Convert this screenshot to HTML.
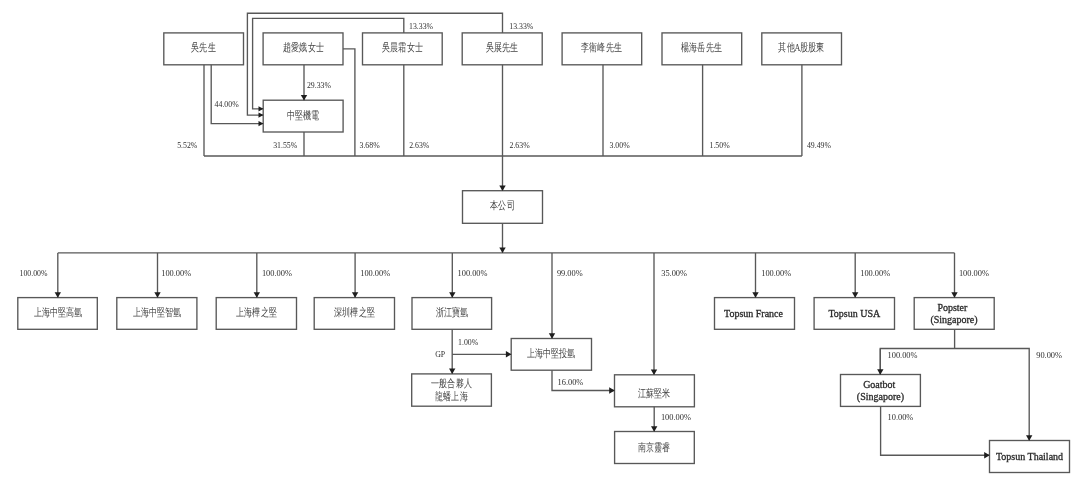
<!DOCTYPE html>
<html lang="zh-Hant">
<head>
<meta charset="utf-8">
<title>Shareholding structure</title>
<style>
html,body{margin:0;padding:0;background:#fff;}
body{width:1080px;height:479px;overflow:hidden;position:relative;font-family:"Liberation Serif",serif;color:#2b2b2b;}
#chart{position:absolute;left:0;top:0;width:1080px;height:479px;filter:blur(0.45px);}
svg{position:absolute;left:0;top:0;}
.b{position:absolute;display:flex;align-items:center;justify-content:center;text-align:center;box-sizing:border-box;}
.b span{display:block;white-space:nowrap;position:relative;}
.c span{font-size:11px;line-height:12.5px;transform:scaleX(0.73);color:#444;}
.l span{font-size:10px;line-height:11.5px;color:#2a2a2a;-webkit-text-stroke:0.3px #2a2a2a;}
.l em{font-style:normal;position:relative;}
.p{position:absolute;white-space:nowrap;line-height:10px;height:10px;color:#2e2e2e;}
</style>
</head>
<body>
<div id="chart">
<svg width="1080" height="479" viewBox="0 0 1080 479">
<g fill="none" stroke="#585858" stroke-width="1.35" stroke-linejoin="miter">
<rect x="163.8" y="32.9" width="79.7" height="31.9"/>
<rect x="263.1" y="32.9" width="79.9" height="31.9"/>
<rect x="362.5" y="32.9" width="79.7" height="31.9"/>
<rect x="462.2" y="32.9" width="80" height="31.9"/>
<rect x="562.1" y="32.9" width="79.6" height="31.9"/>
<rect x="662" y="32.9" width="79.7" height="31.9"/>
<rect x="761.8" y="32.9" width="79.7" height="31.9"/>
<rect x="263.2" y="100.2" width="79.9" height="31.8"/>
<rect x="462.5" y="190.7" width="80" height="32.6"/>
<rect x="17.8" y="297.6" width="79.5" height="31.7"/>
<rect x="116.8" y="297.6" width="80.1" height="31.7"/>
<rect x="216.2" y="297.6" width="80.3" height="31.7"/>
<rect x="314.2" y="297.6" width="80.3" height="31.7"/>
<rect x="412" y="297.6" width="79.6" height="31.7"/>
<rect x="714.5" y="297.6" width="80" height="31.7"/>
<rect x="814.1" y="297.6" width="80.4" height="31.7"/>
<rect x="914.2" y="297.6" width="80" height="31.7"/>
<rect x="511.2" y="338.5" width="80.3" height="31.7"/>
<rect x="411.7" y="373.9" width="79.7" height="32.3"/>
<rect x="614.5" y="374.8" width="79.9" height="32"/>
<rect x="614.6" y="431.5" width="79.7" height="32"/>
<rect x="840.5" y="374.5" width="79.9" height="31.9"/>
<rect x="989.5" y="440.5" width="80" height="32"/>
<polyline points="204,156 801.9,156"/>
<polyline points="204,64.8 204,156"/>
<polyline points="211.2,64.8 211.2,123.6 263.2,123.6"/>
<polyline points="304,64.8 304,100.2"/>
<polyline points="343,48.9 354.9,48.9 354.9,156"/>
<polyline points="304,132 304,156"/>
<polyline points="403.8,64.8 403.8,156"/>
<polyline points="403.8,32.9 403.8,18.3 252.6,18.3 252.6,108.8 263.2,108.8"/>
<polyline points="502.5,64.8 502.5,190.7"/>
<polyline points="502.5,32.9 502.5,13.2 247.4,13.2 247.4,115.1 263.2,115.1"/>
<polyline points="603,64.8 603,156"/>
<polyline points="702.6,64.8 702.6,156"/>
<polyline points="801.9,64.8 801.9,156"/>
<polyline points="502.5,223.3 502.5,252.9"/>
<polyline points="57.8,252.9 954.5,252.9"/>
<polyline points="57.8,252.9 57.8,297.6"/>
<polyline points="157.5,252.9 157.5,297.6"/>
<polyline points="256.8,252.9 256.8,297.6"/>
<polyline points="355.1,252.9 355.1,297.6"/>
<polyline points="452.3,252.9 452.3,297.6"/>
<polyline points="755.5,252.9 755.5,297.6"/>
<polyline points="855.2,252.9 855.2,297.6"/>
<polyline points="954.5,252.9 954.5,297.6"/>
<polyline points="552,252.9 552,338.5"/>
<polyline points="654,252.9 654,374.8"/>
<polyline points="452.2,329.3 452.2,373.9"/>
<polyline points="452.2,354.3 511.2,354.3"/>
<polyline points="552,370.2 552,390.5 614.5,390.5"/>
<polyline points="654.2,406.8 654.2,431.5"/>
<polyline points="954.6,329.3 954.6,348.5"/>
<polyline points="880.3,374.5 880.3,348.5 1029.2,348.5 1029.2,440.5"/>
<polyline points="880.3,348.5 880.3,374.5"/>
<polyline points="880.6,406.4 880.6,455.2 989.5,455.2"/>
</g>
<g fill="#1e1e1e" stroke="none">
<polygon points="263.4,123.6 258.5,121 258.5,126.2"/>
<polygon points="304,100.4 300.8,94.9 307.2,94.9"/>
<polygon points="263.4,108.8 258.5,106.2 258.5,111.4"/>
<polygon points="502.5,190.9 499.3,185.4 505.7,185.4"/>
<polygon points="263.4,115.1 258.5,112.5 258.5,117.7"/>
<polygon points="502.5,253.1 499.3,247.6 505.7,247.6"/>
<polygon points="57.8,297.8 54.6,292.3 61,292.3"/>
<polygon points="157.5,297.8 154.3,292.3 160.7,292.3"/>
<polygon points="256.8,297.8 253.6,292.3 260,292.3"/>
<polygon points="355.1,297.8 351.9,292.3 358.3,292.3"/>
<polygon points="452.3,297.8 449.1,292.3 455.5,292.3"/>
<polygon points="755.5,297.8 752.3,292.3 758.7,292.3"/>
<polygon points="855.2,297.8 852,292.3 858.4,292.3"/>
<polygon points="954.5,297.8 951.3,292.3 957.7,292.3"/>
<polygon points="552,338.7 548.8,333.2 555.2,333.2"/>
<polygon points="654,375 650.8,369.5 657.2,369.5"/>
<polygon points="452.2,374.1 449,368.6 455.4,368.6"/>
<polygon points="511.4,354.3 505.9,351.1 505.9,357.5"/>
<polygon points="614.7,390.5 609.2,387.3 609.2,393.7"/>
<polygon points="654.2,431.7 651,426.2 657.4,426.2"/>
<polygon points="1029.2,440.7 1026,435.2 1032.4,435.2"/>
<polygon points="880.3,374.7 877.1,369.2 883.5,369.2"/>
<polygon points="989.7,455.2 984.2,452 984.2,458.4"/>
</g>
</svg>
<div class="b c" style="left:163.8px;top:32.9px;width:79.7px;height:31.9px"><span style="top:-1.2px;left:0px">吳先生</span></div>
<div class="b c" style="left:263.1px;top:32.9px;width:79.9px;height:31.9px"><span style="top:-1.2px;left:0px">趙愛娥女士</span></div>
<div class="b c" style="left:362.5px;top:32.9px;width:79.7px;height:31.9px"><span style="top:-1.2px;left:0px">吳晨霜女士</span></div>
<div class="b c" style="left:462.2px;top:32.9px;width:80px;height:31.9px"><span style="top:-1.2px;left:0px">吳展先生</span></div>
<div class="b c" style="left:562.1px;top:32.9px;width:79.6px;height:31.9px"><span style="top:-1.2px;left:0px">李衛峰先生</span></div>
<div class="b c" style="left:662px;top:32.9px;width:79.7px;height:31.9px"><span style="top:-1.2px;left:0px">楊海岳先生</span></div>
<div class="b c" style="left:761.8px;top:32.9px;width:79.7px;height:31.9px"><span style="top:-1.2px;left:0px">其他A股股東</span></div>
<div class="b c" style="left:263.2px;top:100.2px;width:79.9px;height:31.8px"><span style="top:-1.2px;left:0px">中堅機電</span></div>
<div class="b c" style="left:462.5px;top:190.7px;width:80px;height:32.6px"><span style="top:-1.4px;left:0px">本公司</span></div>
<div class="b c" style="left:17.8px;top:297.6px;width:79.5px;height:31.7px"><span style="top:-1.2px;left:0px">上海中堅高氫</span></div>
<div class="b c" style="left:116.8px;top:297.6px;width:80.1px;height:31.7px"><span style="top:-1.2px;left:0px">上海中堅智氫</span></div>
<div class="b c" style="left:216.2px;top:297.6px;width:80.3px;height:31.7px"><span style="top:-1.2px;left:0px">上海樺之堅</span></div>
<div class="b c" style="left:314.2px;top:297.6px;width:80.3px;height:31.7px"><span style="top:-1.2px;left:0px">深圳樺之堅</span></div>
<div class="b c" style="left:412px;top:297.6px;width:79.6px;height:31.7px"><span style="top:-1.2px;left:0px">浙江寶氫</span></div>
<div class="b l" style="left:714.5px;top:297.6px;width:80px;height:31.7px"><span style="top:0.1px;left:-1px">Topsun France</span></div>
<div class="b l" style="left:814.1px;top:297.6px;width:80.4px;height:31.7px"><span style="top:0.1px;left:0px">Topsun USA</span></div>
<div class="b l" style="left:914.2px;top:297.6px;width:80px;height:31.7px"><span style="top:0.1px;left:-1px"><em style="left:-0.8px">Popster</em><br><em style="left:0.8px">(Singapore)</em></span></div>
<div class="b c" style="left:511.2px;top:338.5px;width:80.3px;height:31.7px"><span style="top:-1.2px;left:0px">上海中堅投氫</span></div>
<div class="b c" style="left:411.7px;top:373.9px;width:79.7px;height:32.3px"><span style="top:-0.3px;left:0px">一般合夥人<br>龍蟠上海</span></div>
<div class="b c" style="left:614.5px;top:374.8px;width:79.9px;height:32px"><span style="top:2.1px;left:0px">江蘇堅米</span></div>
<div class="b c" style="left:614.6px;top:431.5px;width:79.7px;height:32px"><span style="top:-0.5px;left:0px">南京靈睿</span></div>
<div class="b l" style="left:840.5px;top:374.5px;width:79.9px;height:31.9px"><span style="top:0.1px;left:0px"><em style="left:-1.2px">Goatbot</em><br><em>(Singapore)</em></span></div>
<div class="b l" style="left:989.5px;top:440.5px;width:80px;height:32px"><span style="top:0.1px;left:0px">Topsun Thailand</span></div>
<div class="p" style="left:409px;top:22px;font-size:7.8px">13.33%</div>
<div class="p" style="left:509.3px;top:22px;font-size:7.8px">13.33%</div>
<div class="p" style="left:214.6px;top:100px;font-size:7.8px">44.00%</div>
<div class="p" style="left:306.9px;top:81px;font-size:7.8px">29.33%</div>
<div class="p" style="left:177.2px;top:141px;font-size:7.8px">5.52%</div>
<div class="p" style="left:273.2px;top:141px;font-size:7.8px">31.55%</div>
<div class="p" style="left:359.5px;top:141px;font-size:7.8px">3.68%</div>
<div class="p" style="left:409.2px;top:141px;font-size:7.8px">2.63%</div>
<div class="p" style="left:509.5px;top:141px;font-size:7.8px">2.63%</div>
<div class="p" style="left:609.5px;top:141px;font-size:7.8px">3.00%</div>
<div class="p" style="left:709.5px;top:141px;font-size:7.8px">1.50%</div>
<div class="p" style="left:806.9px;top:141px;font-size:7.8px">49.49%</div>
<div class="p" style="left:19.5px;top:269px;font-size:7.8px">100.00%</div>
<div class="p" style="left:161.2px;top:269px;font-size:8.4px">100.00%</div>
<div class="p" style="left:261.9px;top:269px;font-size:8.4px">100.00%</div>
<div class="p" style="left:360.2px;top:269px;font-size:8.4px">100.00%</div>
<div class="p" style="left:457.5px;top:269px;font-size:8.4px">100.00%</div>
<div class="p" style="left:556.9px;top:269px;font-size:8.4px">99.00%</div>
<div class="p" style="left:661.2px;top:269px;font-size:8.4px">35.00%</div>
<div class="p" style="left:761.2px;top:269px;font-size:8.4px">100.00%</div>
<div class="p" style="left:860.2px;top:269px;font-size:8.4px">100.00%</div>
<div class="p" style="left:958.9px;top:269px;font-size:8.4px">100.00%</div>
<div class="p" style="left:458.1px;top:338px;font-size:7.8px">1.00%</div>
<div class="p" style="left:435.2px;top:350px;font-size:7.8px">GP</div>
<div class="p" style="left:557.5px;top:378px;font-size:8.4px">16.00%</div>
<div class="p" style="left:660.9px;top:413px;font-size:8.4px">100.00%</div>
<div class="p" style="left:887.5px;top:351px;font-size:8.4px">100.00%</div>
<div class="p" style="left:1036.2px;top:351px;font-size:8.4px">90.00%</div>
<div class="p" style="left:887.5px;top:413px;font-size:8.4px">10.00%</div>
</div>
</body>
</html>
